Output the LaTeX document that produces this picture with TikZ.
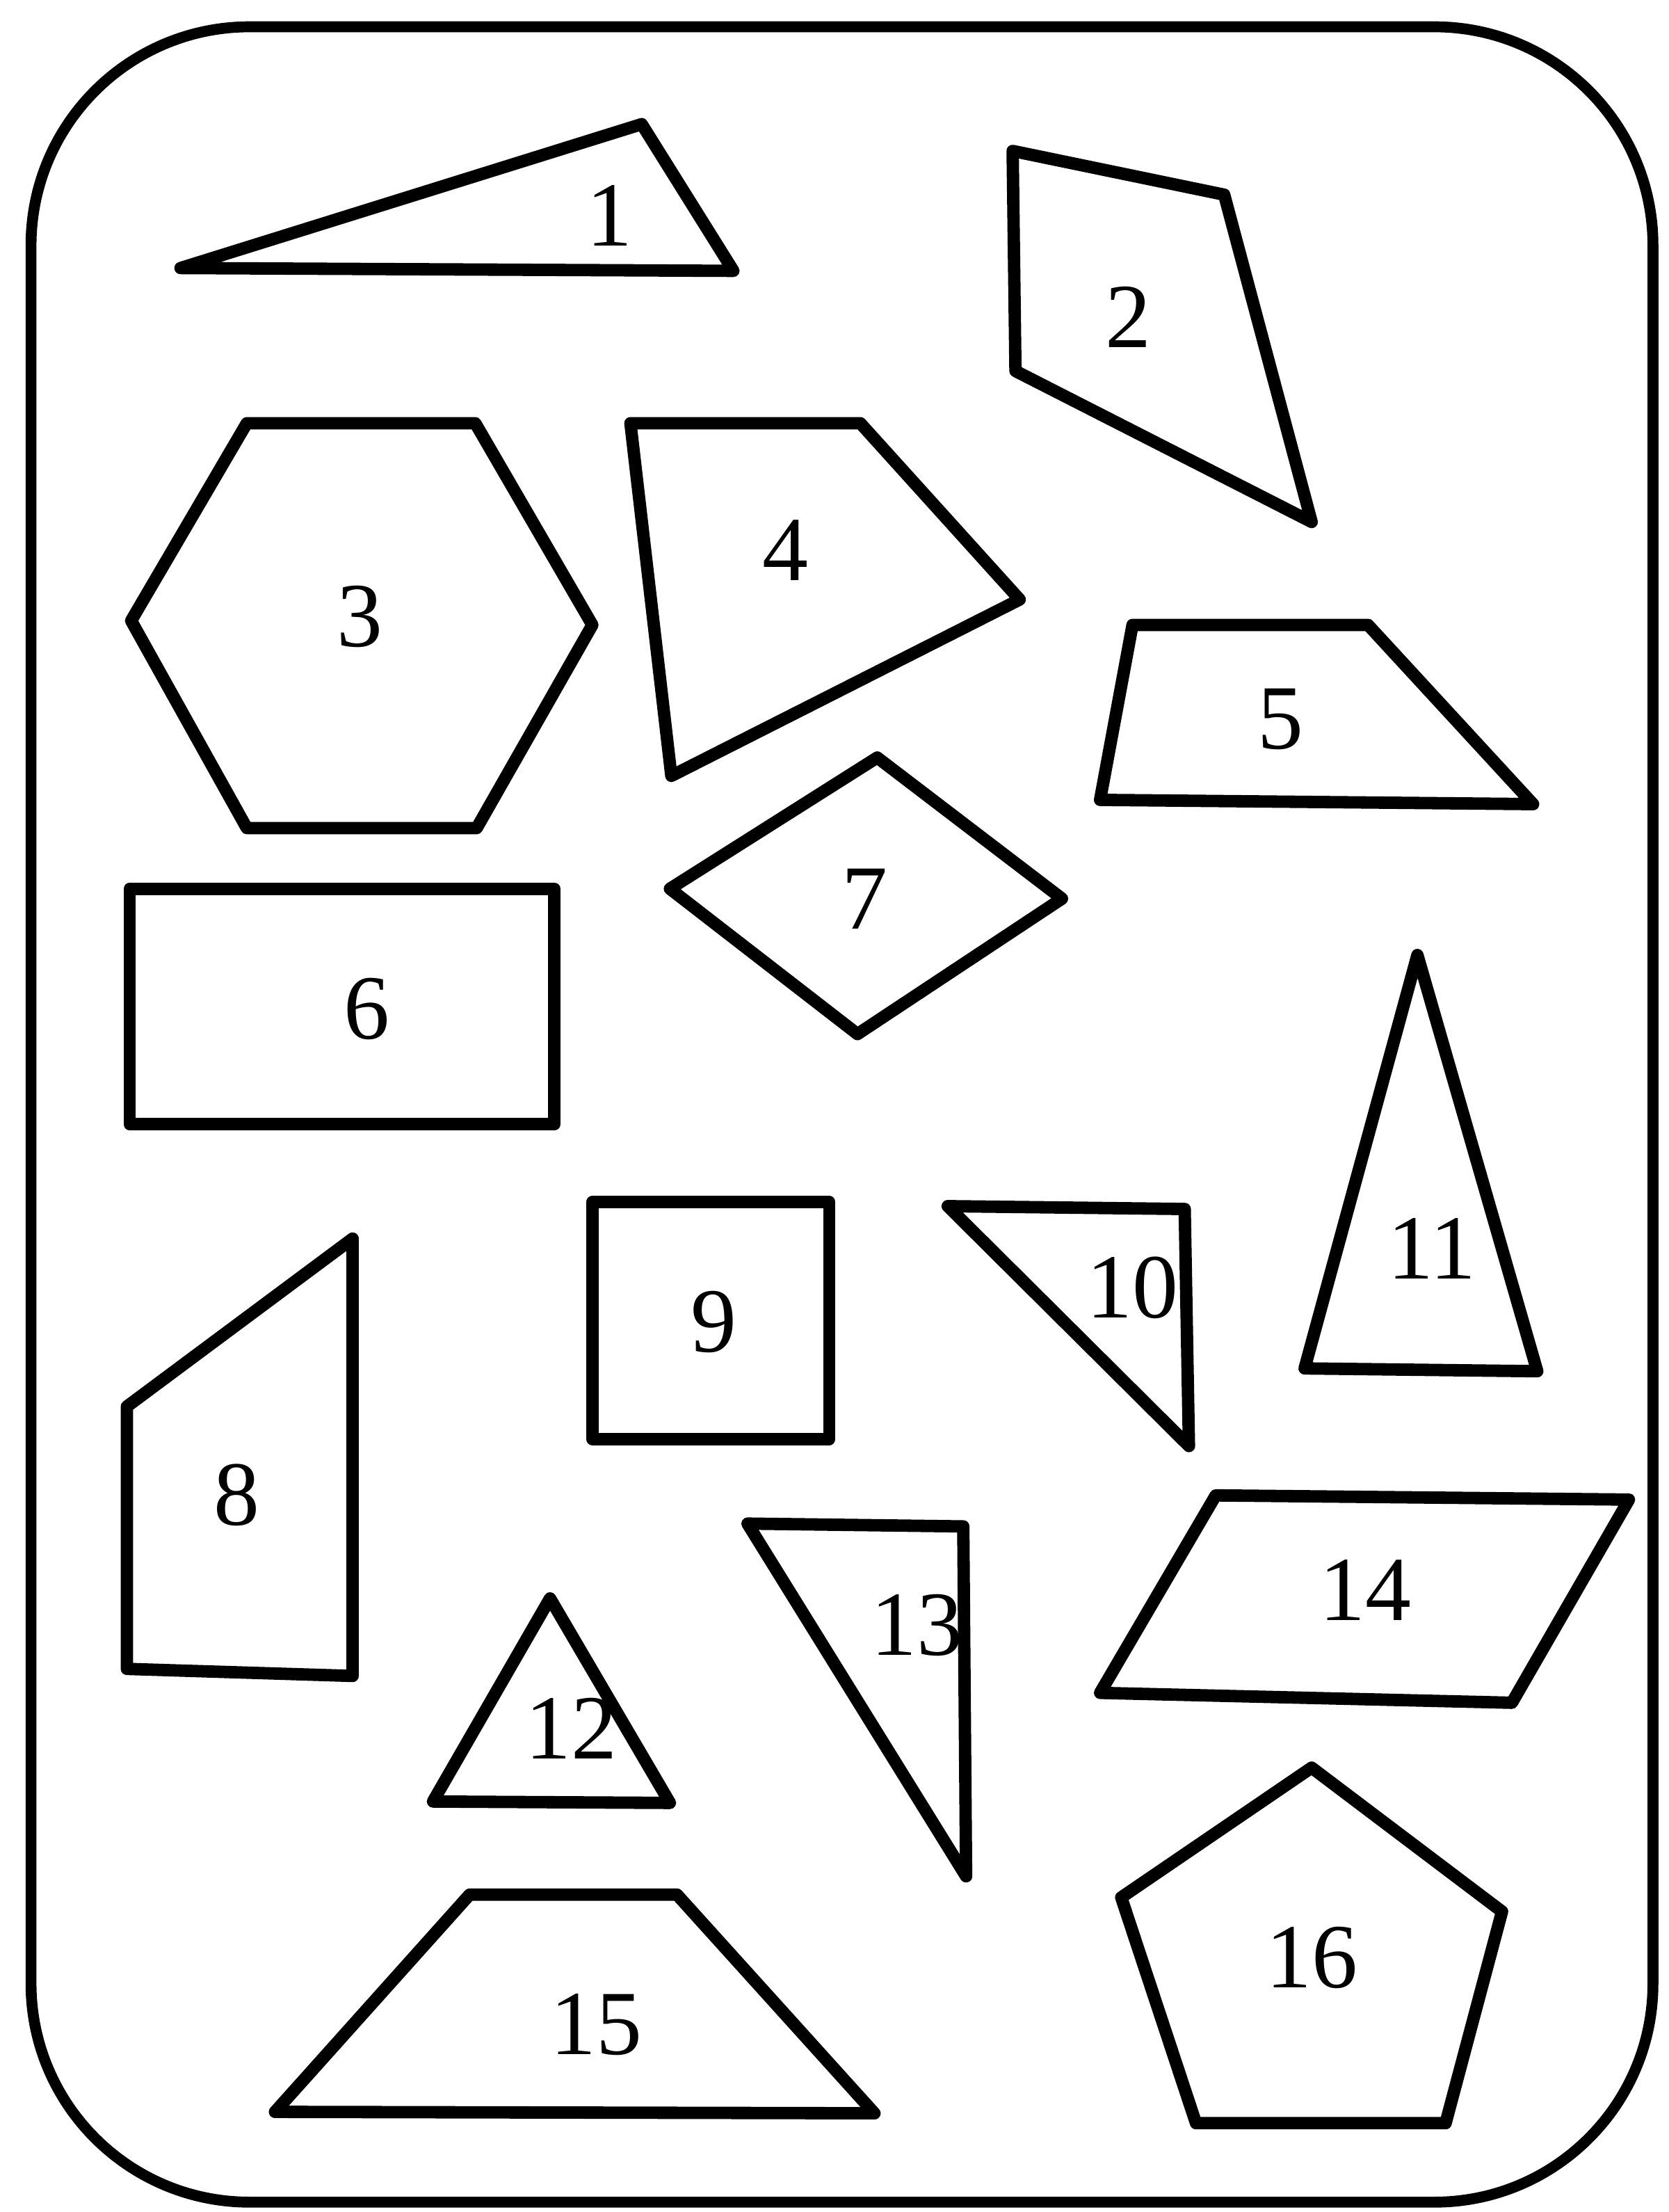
\documentclass[tikz,border=0pt]{standalone}
\usepackage{fontspec}
\setmainfont{Liberation Serif}
\begin{document}
\begin{tikzpicture}[x=0.02cm,y=-0.02cm,
  shp/.style={draw=black,line width=5pt,line join=round},
  frame/.style={draw=black,line width=4.4pt,rounded corners=3.1cm},
  lbl/.style={font=\fontsize{37}{40}\selectfont,inner sep=0pt}]
\useasboundingbox[fill=white] (0,0) rectangle (1183,1568);
\draw[frame] (22,19) rectangle (1172,1561);
% 1
\draw[shp] (128,190) -- (455,88) -- (520,192) -- cycle;
\node[lbl] (n1) at (432,153) {1};
% 2
\draw[shp] (718,107) -- (868,138) -- (930,370) -- (720,263) -- cycle;
\node[lbl] (n2) at (800,225) {2};
% 3
\draw[shp] (93,440) -- (175,300) -- (337,300) -- (420,443) -- (338,587) -- (175,587) -- cycle;
\node[lbl] (n3) at (255,437) {3};
% 4
\draw[shp] (447,300) -- (610,300) -- (723,425) -- (476,550) -- cycle;
\node[lbl] (n4) at (557,390) {4};
% 5
\draw[shp] (803,443) -- (970,443) -- (1087,570) -- (780,567) -- cycle;
\node[lbl] (n5) at (908,510) {5};
% 6
\draw[shp] (92,630) rectangle (393,797);
\node[lbl] (n6) at (260,715) {6};
% 7
\draw[shp] (475,630) -- (622,537) -- (753,637) -- (608,733) -- cycle;
\node[lbl] (n7) at (613,637) {7};
% 8
\draw[shp] (90,997) -- (250,878) -- (250,1188) -- (90,1183) -- cycle;
\node[lbl] (n8) at (168,1060) {8};
% 9
\draw[shp] (420,852) rectangle (588,1020);
\node[lbl] (n9) at (506,937) {9};
% 10
\draw[shp] (672,855) -- (840,857) -- (843,1025) -- cycle;
\node[lbl] (n10) at (803,913) {10};
% 11
\draw[shp] (1005,677) -- (1090,972) -- (925,970) -- cycle;
\node[lbl] (n11) at (1015,885) {11};
% 12
\draw[shp] (390,1133) -- (475,1278) -- (307,1277) -- cycle;
\node[lbl] (n12) at (405,1225) {12};
% 13
\draw[shp] (530,1080) -- (683,1082) -- (685,1330) -- cycle;
\node[lbl] (n13) at (650,1152) {13};
% 14
\draw[shp] (862,1060) -- (1155,1063) -- (1072,1207) -- (780,1200) -- cycle;
\node[lbl] (n14) at (968,1127) {14};
% 15
\draw[shp] (333,1343) -- (480,1343) -- (620,1498) -- (195,1497) -- cycle;
\node[lbl] (n15) at (423,1435) {15};
% 16
\draw[shp] (930,1253) -- (1065,1355) -- (1025,1505) -- (848,1505) -- (795,1345) -- cycle;
\node[lbl] (n16) at (930,1388) {16};
\end{tikzpicture}
\end{document}
